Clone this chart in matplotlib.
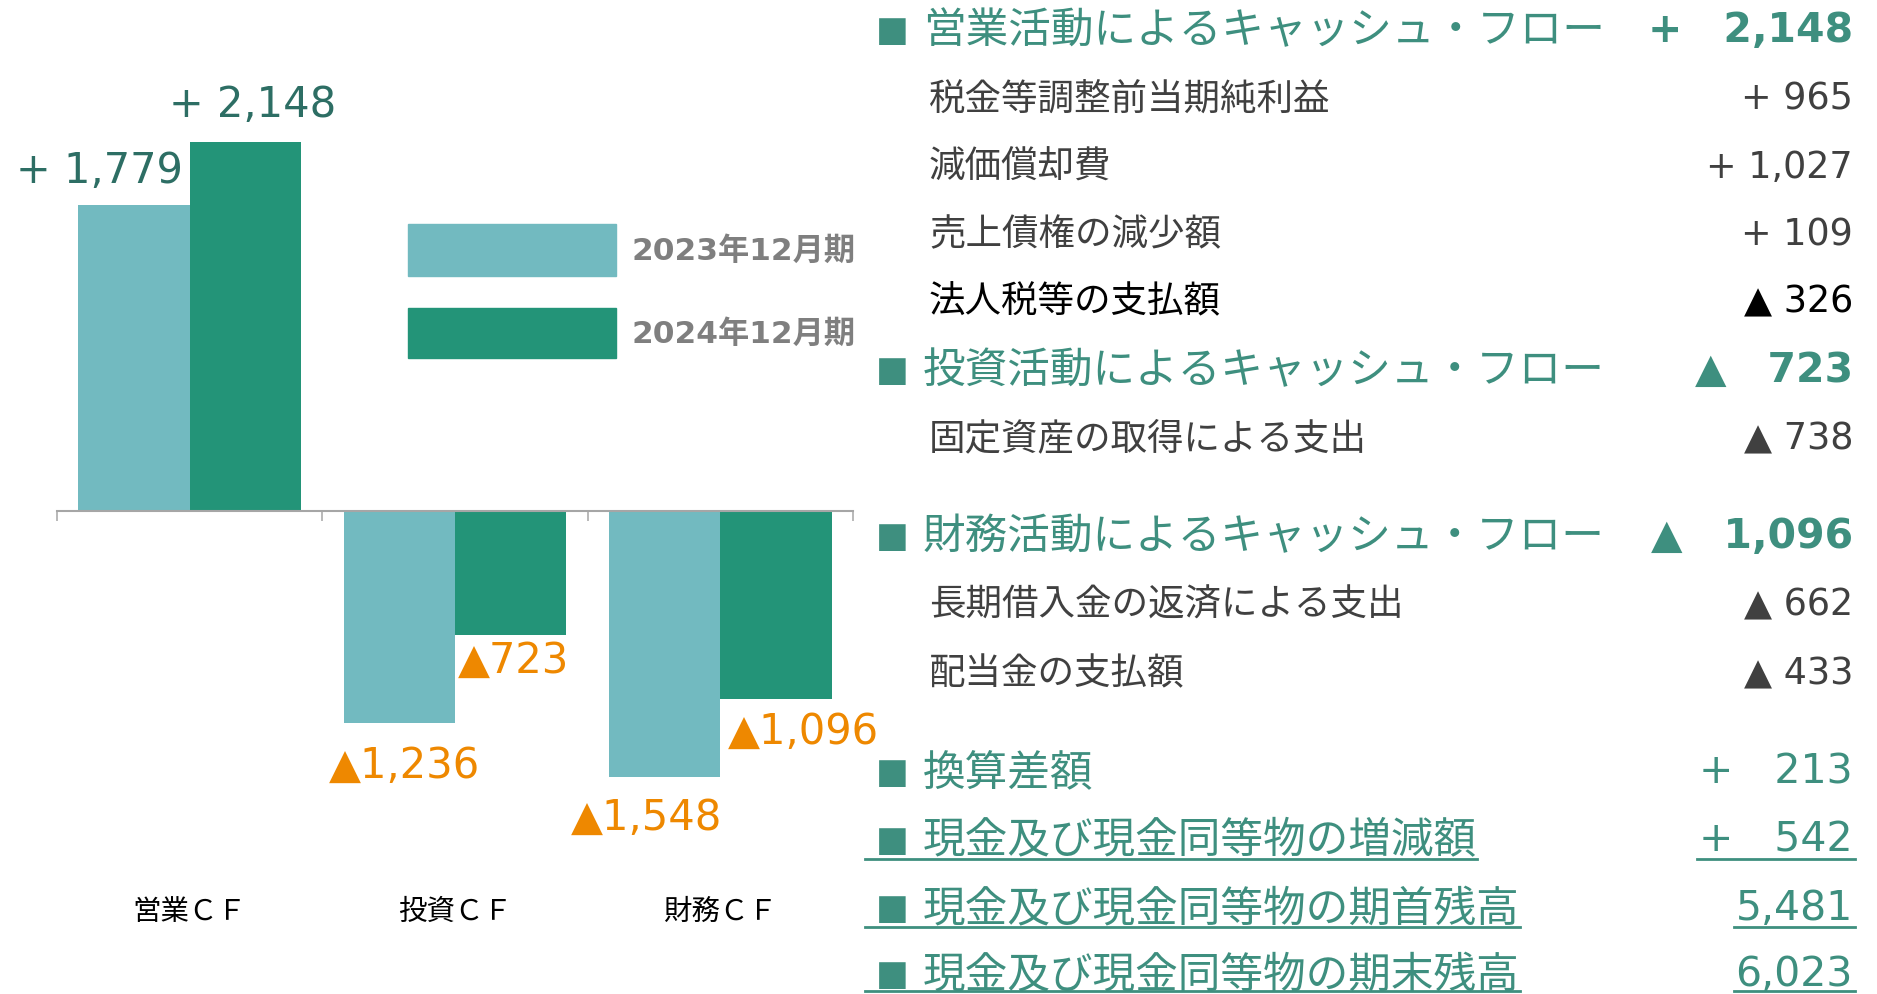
import matplotlib
matplotlib.use('Agg')
import matplotlib.pyplot as plt
from matplotlib.patches import Rectangle
from matplotlib.lines import Line2D
import numpy as np

# chart data
categories = ['営業ＣＦ', '投資ＣＦ', '財務ＣＦ']
periods = ['2023年12月期', '2024年12月期']
cf_2023 = [1779, -1236, -1548]
cf_2024 = [2148, -723, -1096]

# breakdown table on the right
item_labels = ['営業活動によるキャッシュ・フロー', '税金等調整前当期純利益', '減価償却費',
               '売上債権の減少額', '法人税等の支払額', '投資活動によるキャッシュ・フロー',
               '固定資産の取得による支出', '財務活動によるキャッシュ・フロー',
               '長期借入金の返済による支出', '配当金の支払額', '換算差額',
               '現金及び現金同等物の増減額', '現金及び現金同等物の期首残高',
               '現金及び現金同等物の期末残高']
item_signs = ['+', '+', '+', '+', '▲', '▲', '▲', '▲', '▲', '▲', '+', '+', '', '']
item_values = [2148, 965, 1027, 109, 326, 723, 738, 1096, 662, 433, 213, 542, 5481, 6023]
item_kinds = ['head', 'sub', 'sub', 'sub', 'subk', 'head', 'sub', 'head', 'sub', 'sub',
              'plain', 'total', 'total', 'total']

W, H = 1877, 995
LIGHT = '#72BAC0'
DARK = '#239478'
TEAL = '#3E8F7F'
LABEL_POS = '#2D6E64'
ORANGE = '#EE8800'
GRAY_AX = '#A6A6A6'
FONTS = ['DejaVu Sans', 'Noto Sans CJK JP']
plt.rcParams['font.family'] = FONTS


def fx(x):
    return x / W


def fy(y):
    return 1 - y / H


fig = plt.figure(figsize=(W / 100, H / 100), dpi=100)
ax = fig.add_axes([57 / W, 1 - 907.4 / H, 796 / W, 808 / H])

x = np.arange(len(categories))
bw = 0.42
ax.bar(x - bw / 2, cf_2023, bw, color=LIGHT)
ax.bar(x + bw / 2, cf_2024, bw, color=DARK)
ax.set_xlim(-0.5, len(categories) - 0.5)
ax.set_ylim(-2300, 2400)

for s in ['left', 'right', 'top']:
    ax.spines[s].set_visible(False)
ax.spines['bottom'].set_position(('data', 0))
ax.spines['bottom'].set_color(GRAY_AX)
ax.spines['bottom'].set_linewidth(1.5)
ax.yaxis.set_visible(False)
ax.set_xticks(np.arange(len(categories) + 1) - 0.5)
ax.tick_params(axis='x', direction='out', length=7, width=1.1, color=GRAY_AX,
               labelbottom=False)

for i, c in enumerate(categories):
    ax.text(i, -0.006, c, transform=ax.get_xaxis_transform(), ha='center', va='center',
            fontsize=20.5, color='#000000')

# value labels: (anchor, dx px, dy px)
style_2023 = [('right', -7, 35), ('center', 5, -41), ('right', 2, -40)]
style_2024 = [('center', 7, 38), ('left', 3, -25), ('left', 8, -31)]


def label_bars(vals, offset, styles):
    for i, (v, (anc, dx, dy)) in enumerate(zip(vals, styles)):
        xc = i + offset
        xa = {'left': xc - bw / 2, 'center': xc, 'right': xc + bw / 2}[anc]
        if v >= 0:
            t, col = '+ {:,}'.format(v), LABEL_POS
        else:
            t, col = '▲{:,}'.format(-v), ORANGE
        ax.annotate(t, xy=(xa, v), xytext=(dx, dy), textcoords='offset pixels',
                    ha=anc, va='center', fontsize=30, color=col)


label_bars(cf_2023, -bw / 2, style_2023)
label_bars(cf_2024, bw / 2, style_2024)

# legend drawn by hand
for (y0, y1, ym), col, name in zip([(225, 277, 251), (309, 359, 334)], [LIGHT, DARK], periods):
    fig.add_artist(Rectangle((fx(408), fy(y1)), (616 - 408) / W, (y1 - y0) / H,
                             transform=fig.transFigure, color=col))
    fig.text(fx(632), fy(ym), name, ha='left', va='center', fontsize=22.5,
             fontweight='bold', color='#7F7F7F')

# right table
row_y = [31, 99, 167, 235, 302, 371, 439, 537, 605, 674, 773, 841, 909, 975]
totals = []
for lab, sg, v, kind, y in zip(item_labels, item_signs, item_values, item_kinds, row_y):
    if kind in ('head', 'plain', 'total'):
        fig.text(fx(876), fy(y), '■', ha='left', va='center', fontsize=25, color=TEAL)
        lt = fig.text(fx(923), fy(y), lab, ha='left', va='center', fontsize=30.7, color=TEAL)
        vs = (sg + '\u3000' if sg else '') + '{:,}'.format(v)
        vt = fig.text(fx(1853), fy(y), vs, ha='right', va='center', fontsize=29.5, color=TEAL,
                      fontweight='bold' if kind == 'head' else 'normal')
        if kind == 'total':
            totals.append((lt, vt, y))
    else:
        col = '#000000' if kind == 'subk' else '#404040'
        fig.text(fx(929), fy(y), lab, ha='left', va='center', fontsize=26.3, color=col)
        fig.text(fx(1853), fy(y), sg + ' ' + '{:,}'.format(v), ha='right', va='center',
                 fontsize=26.3, color=col)

fig.canvas.draw()
r = fig.canvas.get_renderer()
for lt, vt, y in totals:
    lb = lt.get_window_extent(r)
    vb = vt.get_window_extent(r)
    uy = fy(min(y + 19, 992))
    fig.add_artist(Line2D([fx(865), lb.x1 / W], [uy, uy], color=TEAL, linewidth=2,
                          transform=fig.transFigure))
    fig.add_artist(Line2D([(vb.x0 - 2) / W, fx(1855)], [uy, uy], color=TEAL, linewidth=2,
                          transform=fig.transFigure))

fig.savefig('out.png', dpi=100)
plt.close(fig)
